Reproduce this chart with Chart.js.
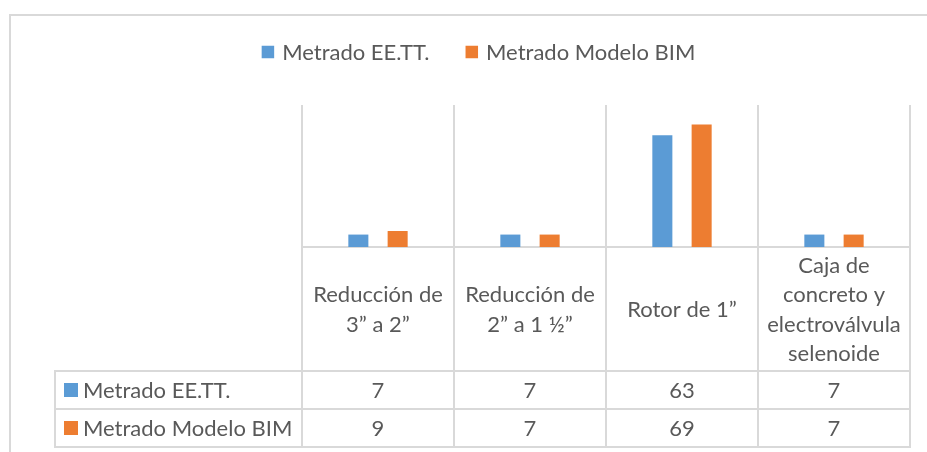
<!DOCTYPE html>
<html>
<head>
<meta charset="utf-8">
<script src="https://cdn.jsdelivr.net/npm/chart.js@4/dist/chart.umd.min.js"></script>
<style>
  html, body { margin: 0; padding: 0; background: #ffffff; }
  canvas { display: block; }
</style>
</head>
<body>
<canvas id="chart" width="927" height="452"></canvas>
<script>
// Category labels (one array of lines per category)
const categories = [
  ["Reducción de", "3” a 2”"],
  ["Reducción de", "2” a 1 ½”"],
  ["Rotor de 1”"],
  ["Caja de", "concreto y", "electroválvula", "selenoide"]
];
const seriesNames = ["Metrado EE.TT.", "Metrado Modelo BIM"];
const metradoEETT = [7, 7, 63, 7];
const metradoBIM = [9, 7, 69, 7];
const seriesColors = ["#5B9BD5", "#ED7D31"];
const axisMax = 80;

const TEXT = "#595959";
const LINE = "#d9d9d9";
const FONT = "22px Lato";

// Rows of the data table under the plot
const TABLE = { left: 55, headerBottom: 371, rowBottoms: [409, 447], lineHeight: 29.5 };

const dataTablePlugin = {
  id: "dataTable",
  beforeDraw(chart) {
    const ctx = chart.ctx;
    ctx.save();
    ctx.fillStyle = "#ffffff";
    ctx.fillRect(0, 0, chart.width, chart.height);
    // chart frame
    ctx.strokeStyle = LINE;
    ctx.lineWidth = 2;
    ctx.beginPath();
    ctx.moveTo(10, chart.height);
    ctx.lineTo(10, 15);
    ctx.lineTo(chart.width, 15);
    ctx.stroke();
    ctx.restore();
  },
  afterDraw(chart) {
    const ctx = chart.ctx;
    const x = chart.scales.x;
    const area = chart.chartArea;
    ctx.save();
    ctx.font = FONT;
    ctx.fillStyle = TEXT;
    ctx.textBaseline = "middle";

    // legend, centred over the frame
    const sq = 12.5, gapText = 8, gapItem = 36;
    const widths = chart.data.datasets.map(d => ctx.measureText(d.label).width);
    const total = widths.reduce((a, w) => a + sq + gapText + w, 0) + gapItem * (widths.length - 1);
    let lx = 478.5 - total / 2;
    const ly = 52;
    chart.data.datasets.forEach((d, i) => {
      ctx.fillStyle = d.backgroundColor;
      ctx.fillRect(lx, ly - sq / 2, sq, sq);
      ctx.fillStyle = TEXT;
      ctx.textAlign = "left";
      ctx.fillText(d.label, lx + sq + gapText, ly + 1);
      lx += sq + gapText + widths[i] + gapItem;
    });

    // header row: category names, centred in their cells
    ctx.textAlign = "center";
    const headerMid = (area.bottom + TABLE.headerBottom) / 2;
    chart.data.labels.forEach((lines, i) => {
      const cx = x.getPixelForValue(i);
      const arr = Array.isArray(lines) ? lines : [lines];
      const y0 = headerMid - (arr.length - 1) * TABLE.lineHeight / 2;
      arr.forEach((t, k) => ctx.fillText(t, cx, y0 + k * TABLE.lineHeight + 1));
    });

    // table rulings
    ctx.strokeStyle = LINE;
    ctx.lineWidth = 2;
    ctx.beginPath();
    [TABLE.headerBottom, ...TABLE.rowBottoms].forEach(y => {
      ctx.moveTo(TABLE.left, y);
      ctx.lineTo(area.right + 1, y);
    });
    ctx.moveTo(TABLE.left, TABLE.headerBottom - 1);
    ctx.lineTo(TABLE.left, TABLE.rowBottoms[TABLE.rowBottoms.length - 1] + 1);
    ctx.stroke();

    // series rows: key, name and values
    let top = TABLE.headerBottom;
    chart.data.datasets.forEach((d, r) => {
      const bottom = TABLE.rowBottoms[r];
      const mid = (top + bottom) / 2;
      ctx.fillStyle = d.backgroundColor;
      ctx.fillRect(64, mid - 7, 14, 14);
      ctx.fillStyle = TEXT;
      ctx.textAlign = "left";
      ctx.fillText(d.label, 83, mid + 1);
      ctx.textAlign = "center";
      d.data.forEach((v, i) => ctx.fillText(String(v), x.getPixelForValue(i), mid + 1));
      top = bottom;
    });
    ctx.restore();
  }
};

function build() {
  new Chart(document.getElementById("chart"), {
    type: "bar",
    data: {
      labels: categories,
      datasets: [
        { label: seriesNames[0], data: metradoEETT, backgroundColor: seriesColors[0] },
        { label: seriesNames[1], data: metradoBIM, backgroundColor: seriesColors[1] }
      ]
    },
    options: {
      responsive: false,
      animation: false,
      devicePixelRatio: 1,
      categoryPercentage: 0.517,
      barPercentage: 0.51,
      layout: { padding: { left: 302, right: 17, top: 105, bottom: 0 } },
      plugins: { legend: { display: false }, tooltip: { enabled: false } },
      scales: {
        x: {
          offset: true,
          grid: {
            offset: true,
            color: LINE,
            lineWidth: 2,
            drawTicks: true,
            tickLength: 200,
            tickColor: LINE,
            tickWidth: 2
          },
          border: { display: true, color: LINE, width: 2 },
          ticks: { display: false },
          afterFit(scale) { scale.height = 205; }
        },
        y: {
          display: false,
          min: 0,
          max: axisMax
        }
      }
    },
    plugins: [dataTablePlugin]
  });
}

if (document.fonts && document.fonts.load) {
  document.fonts.load(FONT).then(build, build);
} else {
  build();
}
</script>
</body>
</html>
